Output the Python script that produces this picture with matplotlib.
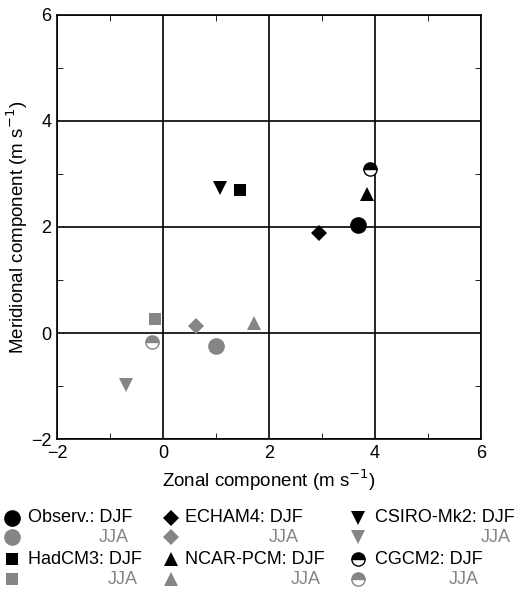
import numpy as np
import matplotlib.pyplot as plt
from matplotlib.ticker import MultipleLocator

plt.rcParams['font.family'] = ['Liberation Sans', 'DejaVu Sans']

models = ['Observ.', 'ECHAM4', 'CSIRO-Mk2', 'HadCM3', 'NCAR-PCM', 'CGCM2']
markers = ['o', 'D', 'v', 's', '^', 'o']
sizes = [12, 8, 10, 8, 10, 9.5]
djf_u = [3.67, 2.95, 1.07, 1.46, 3.84, 3.91]
djf_v = [2.03, 1.88, 2.73, 2.69, 2.63, 3.09]
jja_u = [0.99, 0.62, -0.69, -0.16, 1.72, -0.20]
jja_v = [-0.25, 0.13, -0.98, 0.26, 0.18, -0.16]
gray = '#858585'


def style(i, color):
    kw = dict(marker=markers[i], ms=sizes[i], linestyle='none')
    if models[i] == 'CGCM2':
        kw.update(fillstyle='top', markerfacecolor=color, markerfacecoloralt='white',
                  markeredgecolor=color, markeredgewidth=1.0)
    else:
        kw.update(color=color, markeredgewidth=0)
    return kw


fig = plt.figure(figsize=(5.23, 5.91), dpi=100)
ax = fig.add_axes([0.109, 0.257, 0.811, 0.718])

for i in range(len(models)):
    ax.plot(djf_u[i], djf_v[i], **style(i, 'black'), zorder=3)
    ax.plot(jja_u[i], jja_v[i], **style(i, gray), zorder=3)

ax.set_xlim(-2, 6)
ax.set_ylim(-2, 6)
ax.xaxis.set_major_locator(MultipleLocator(2))
ax.yaxis.set_major_locator(MultipleLocator(2))
ax.xaxis.set_minor_locator(MultipleLocator(1))
ax.yaxis.set_minor_locator(MultipleLocator(1))
ax.grid(True, which='major', color='black', linewidth=1.2)
ax.tick_params(which='both', direction='in', top=True, right=True, labelsize=13)
ax.tick_params(which='major', length=0, pad=4)
ax.tick_params(which='minor', length=4)
for s in ax.spines.values():
    s.set_linewidth(1.2)
ax.set_xlabel('Zonal component (m s$^{-1}$)', fontsize=13.5, labelpad=4)
ax.set_ylabel('Meridional component (m s$^{-1}$)', fontsize=13.5, labelpad=1)

# custom key below the plot, in pixel coordinates
lg = fig.add_axes([0, 0, 1, 1], zorder=-1)
lg.set_xlim(0, 523)
lg.set_ylim(591, 0)
lg.axis('off')
col_x = [12, 171, 358]
txt_x = [28, 185, 375]
row_y = [518, 537, 559, 579]
renderer = fig.canvas.get_renderer()
for k in range(len(models)):
    c = k % 3
    r = (k // 3) * 2
    lg.plot(col_x[c], row_y[r], **style(k, 'black'))
    lg.plot(col_x[c], row_y[r + 1], **style(k, gray))
    t = lg.text(txt_x[c], row_y[r], models[k] + ': DJF', fontsize=13,
                ha='left', va='center')
    bb = t.get_window_extent(renderer=renderer)
    x_end = lg.transData.inverted().transform((bb.x1, bb.y0))[0]
    lg.text(x_end - 4, row_y[r + 1] + 1, 'JJA', fontsize=13, color=gray,
            ha='right', va='center')

fig.savefig('out.png', dpi=100)
